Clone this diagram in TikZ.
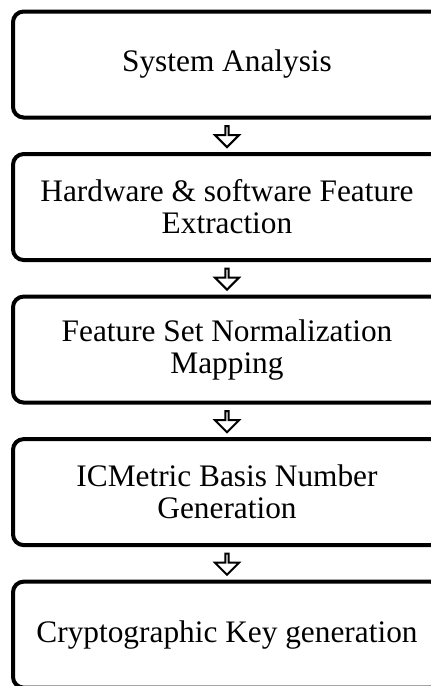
\documentclass[tikz,border=0pt]{standalone}
\usepackage{fontspec}
\setmainfont{Liberation Serif}
\usetikzlibrary{positioning,shapes,shapes.arrows}

\begin{document}
\begin{tikzpicture}[
x=0.75pt, y=0.75pt,
stage/.style={draw, line width=3pt, rounded corners=8pt, outer sep=0pt,
  minimum width=321pt, minimum height=79.5pt, align=center,
  font=\fontsize{23.5}{24}\selectfont},
downarrow/.style={single arrow, draw, line width=1.5pt, inner sep=0pt,
  minimum width=18pt, minimum height=15.75pt, single arrow head extend=4.5pt,
  rotate=-90}]
\useasboundingbox (0,0) rectangle (431,-686);
\clip (0,0) rectangle (431,-686);
\node[stage] (sa) at (227,-64.5) {System Analysis};
\node[stage, below=27.4pt of sa] (hw) {Hardware \& software Feature\\Extraction};
\node[stage, below=27.4pt of hw] (fs) {Feature Set Normalization\\Mapping};
\node[stage, below=27.4pt of fs] (ic) {ICMetric Basis Number\\Generation};
\node[stage, below=27.4pt of ic] (ck) {Cryptographic Key generation};
\path (sa) -- node[downarrow] {} (hw);
\path (hw) -- node[downarrow] {} (fs);
\path (fs) -- node[downarrow] {} (ic);
\path (ic) -- node[downarrow] {} (ck);
\end{tikzpicture}
\end{document}
